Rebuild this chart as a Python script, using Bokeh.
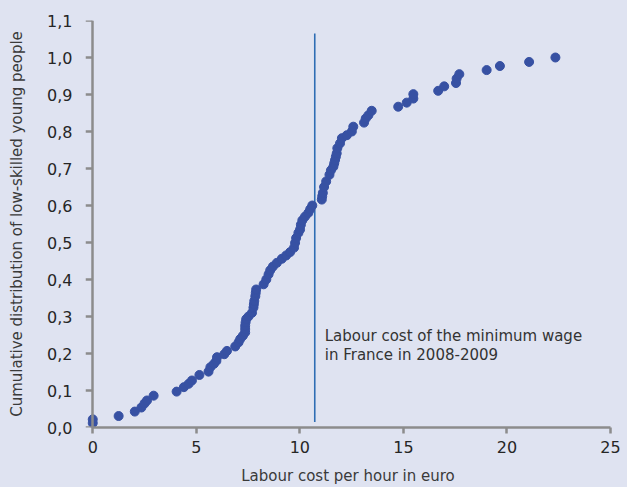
from bokeh.plotting import figure
from bokeh.models import FixedTicker, Range1d, Label, LinearAxis, GlobalInlineStyleSheet
from bokeh.embed import file_html
from bokeh.resources import INLINE

# Labour cost per hour (euro) and cumulative share of low-skilled young people
wage = [0.0, 0.0, 1.25, 2.03, 2.35, 2.5, 2.62, 2.94, 4.05, 4.4, 4.63, 4.79, 5.15,
        5.59, 5.68, 5.85, 5.97, 6.0, 6.35, 6.48, 6.88, 7.04, 7.12, 7.25, 7.36, 7.36,
        7.36, 7.38, 7.41, 7.52, 7.69, 7.76, 7.78, 7.8, 7.85, 7.87, 7.89, 8.25, 8.38,
        8.49, 8.57, 8.7, 8.89, 9.13, 9.34, 9.53, 9.72, 9.77, 9.82, 9.93, 10.01, 10.05,
        10.12, 10.25, 10.41, 10.5, 10.6, 11.06, 11.08, 11.11, 11.17, 11.27, 11.43,
        11.5, 11.62, 11.66, 11.7, 11.74, 11.78, 11.81, 11.94, 12.03, 12.27, 12.51,
        12.58, 13.1, 13.18, 13.31, 13.47, 14.75, 15.16, 15.48, 15.48, 16.68, 16.97,
        17.54, 17.57, 17.7, 19.02, 19.66, 21.07, 22.34]
share = [0.012, 0.022, 0.031, 0.043, 0.054, 0.065, 0.073, 0.086, 0.097, 0.109, 0.118,
         0.127, 0.142, 0.151, 0.163, 0.172, 0.18, 0.19, 0.198, 0.207, 0.219, 0.23,
         0.239, 0.248, 0.257, 0.266, 0.275, 0.284, 0.293, 0.30, 0.31, 0.324, 0.333,
         0.342, 0.355, 0.364, 0.373, 0.387, 0.40, 0.414, 0.425, 0.435, 0.445, 0.456,
         0.465, 0.474, 0.486, 0.499, 0.512, 0.526, 0.535, 0.548, 0.56, 0.57, 0.58,
         0.59, 0.60, 0.616, 0.625, 0.634, 0.65, 0.665, 0.683, 0.695, 0.705, 0.714,
         0.723, 0.732, 0.741, 0.755, 0.768, 0.782, 0.79, 0.80, 0.813, 0.824, 0.835,
         0.844, 0.856, 0.867, 0.878, 0.889, 0.901, 0.91, 0.922, 0.931, 0.943, 0.955,
         0.966, 0.977, 0.988, 1.0]

min_wage_cost = 10.72
line_bottom = 0.015
line_top = 1.065
annotation_lines = ["Labour cost of the minimum wage", "in France in 2008-2009"]

x_ticks = [0, 5, 10, 15, 20, 25]
y_ticks = [0.0, 0.1, 0.2, 0.3, 0.4, 0.5, 0.6, 0.7, 0.8, 0.9, 1.0, 1.1]
y_tick_labels = ["0,0", "0,1", "0,2", "0,3", "0,4", "0,5", "0,6", "0,7", "0,8",
                 "0,9", "1,0", "1,1"]

BG = "#DFE3F1"
AXIS = "#8C8C8C"
FONT = "DejaVu Sans"

p = figure(width=627, height=487, output_backend="svg", toolbar_location=None,
           x_range=Range1d(-0.35, 25), y_range=Range1d(0, 1.1),
           min_border_left=85, min_border_right=17, min_border_top=20,
           min_border_bottom=58,
           background_fill_color=BG, border_fill_color=BG, outline_line_color=None)
p.stylesheets = [GlobalInlineStyleSheet(
    css=f"html, body {{ margin: 0; padding: 0; overflow: hidden; background-color: {BG}; }}")]
p.grid.visible = False

# bottom axis
xa = p.xaxis[0]
xa.ticker = FixedTicker(ticks=x_ticks)
xa.bounds = (0, 25)
xa.axis_label = "Labour cost per hour in euro"
xa.axis_line_color = AXIS
xa.axis_line_width = 2.5
xa.major_tick_line_color = AXIS
xa.major_tick_line_width = 2.5
xa.major_tick_in = 0
xa.major_tick_out = 6
xa.minor_tick_line_color = None
xa.major_label_standoff = 7
xa.axis_label_standoff = 11

# left axis: labels and title (at frame edge)
ya = p.yaxis[0]
ya.ticker = FixedTicker(ticks=y_ticks)
ya.major_label_overrides = dict(zip(y_ticks, y_tick_labels))
ya.axis_label = "Cumulative distribution of low-skilled young people"
ya.axis_line_color = None
ya.major_tick_line_color = None
ya.major_tick_in = 0
ya.major_tick_out = 0
ya.minor_tick_line_color = None
ya.major_label_standoff = 13
ya.axis_label_standoff = 18

for ax in (xa, ya):
    ax.major_label_text_font = FONT
    ax.major_label_text_font_size = "16px"
    ax.major_label_text_color = "#262626"
    ax.axis_label_text_font = FONT
    ax.axis_label_text_font_size = "15px"
    ax.axis_label_text_font_style = "normal"
    ax.axis_label_text_color = "#3a3a3a"

# y axis line and ticks crossing at x = 0
y_rule = LinearAxis(fixed_location=0, ticker=FixedTicker(ticks=y_ticks),
                    axis_line_color=AXIS, axis_line_width=2.5,
                    major_tick_line_color=AXIS, major_tick_line_width=2.5,
                    major_tick_in=0, major_tick_out=7, minor_tick_line_color=None,
                    major_label_text_color=None)
p.add_layout(y_rule, "left")

p.segment(x0=[min_wage_cost], y0=[line_bottom], x1=[min_wage_cost], y1=[line_top],
          line_color="#2E6DB4", line_width=1.6)

p.scatter(wage, share, size=9, fill_color="#3751A3", line_color="#3751A3")

for i, txt in enumerate(annotation_lines):
    p.add_layout(Label(x=min_wage_cost, y=0.247, x_offset=10, y_offset=-19 * i,
                       text=txt, text_font=FONT, text_font_size="15px",
                       text_color="#333333", text_baseline="alphabetic"))

open("out.html", "w").write(file_html(p, INLINE))
